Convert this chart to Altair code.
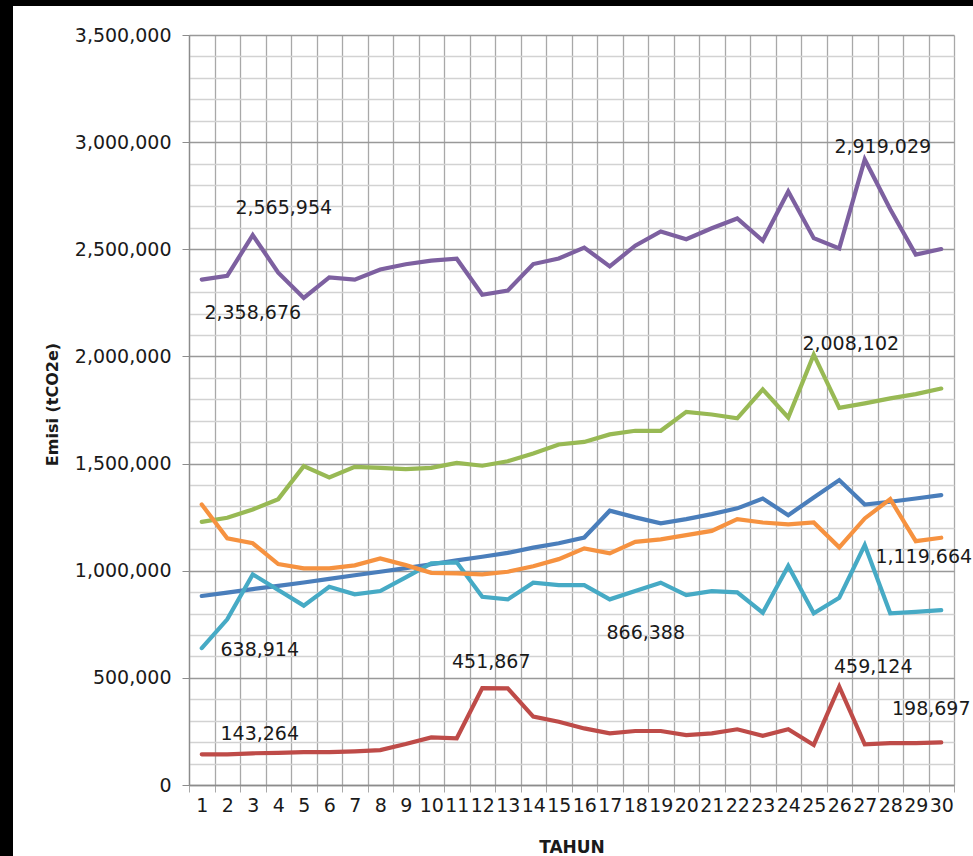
import altair as alt
import pandas as pd

# Annual emissions (tCO2e) for six scenarios over a 30-year horizon
years = list(range(1, 31))

series_names = ["S1", "S2", "S3", "S4", "S5", "S6"]
series_colors = ["#4A7EBB", "#BE4B48", "#98B954", "#7D60A0", "#46AAC5", "#F69240"]

s1_blue = [882000, 898000, 914000, 929000, 945000, 962000, 979000, 995000, 1012000, 1030000,
           1048000, 1065000, 1083000, 1108000, 1128000, 1155000, 1280000, 1249000, 1221000, 1241000,
           1264000, 1291000, 1337000, 1259000, 1342000, 1423000, 1309000, 1322000, 1337000, 1353000]
s2_red = [143264, 143000, 148000, 150000, 153000, 153000, 157000, 163000, 191000, 222000,
          218000, 451867, 451000, 319000, 295000, 264000, 241000, 252000, 252000, 233000,
          241000, 260000, 230000, 260000, 187000, 459124, 190000, 195000, 195000, 198697]
s3_green = [1228000, 1247000, 1286000, 1334000, 1488000, 1435000, 1485000, 1480000, 1474000, 1480000,
            1503000, 1490000, 1511000, 1547000, 1589000, 1601000, 1636000, 1653000, 1653000, 1741000,
            1729000, 1711000, 1846000, 1715000, 2008102, 1760000, 1781000, 1804000, 1824000, 1850000]
s4_purple = [2358676, 2376000, 2565954, 2391000, 2273000, 2369000, 2358000, 2406000, 2430000, 2447000,
             2456000, 2288000, 2307000, 2431000, 2457000, 2508000, 2420000, 2517000, 2583000, 2547000,
             2598000, 2644000, 2540000, 2770000, 2552000, 2504000, 2919029, 2687000, 2475000, 2501000]
s5_cyan = [638914, 773000, 983000, 910000, 837000, 925000, 890000, 905000, 969000, 1034000,
           1039000, 878000, 866000, 944000, 933000, 933000, 866388, 905000, 944000, 886000,
           905000, 899000, 804000, 1022000, 801000, 874000, 1119664, 801000, 808000, 816000]
s6_orange = [1309000, 1151000, 1128000, 1031000, 1011000, 1011000, 1025000, 1057000, 1026000, 990000,
             988000, 983000, 995000, 1021000, 1054000, 1104000, 1081000, 1135000, 1146000, 1166000,
             1186000, 1241000, 1225000, 1216000, 1225000, 1109000, 1244000, 1334000, 1138000, 1154000]

all_series = [s1_blue, s2_red, s3_green, s4_purple, s5_cyan, s6_orange]

y_ticks = list(range(0, 3500001, 100000))
x_ticks = [i + 0.5 for i in range(0, 31)]

rows = []
for name, vals in zip(series_names, all_series):
    for yr, v in zip(years, vals):
        rows.append({"series": name, "year": yr, "value": v})
df = pd.DataFrame(rows)

FONT = "DejaVu Sans"
TEXT = "#1a1a1a"

x_enc = alt.X(
    "year:Q",
    scale=alt.Scale(domain=[0.5, 30.5], nice=False, zero=False),
    axis=alt.Axis(
        values=x_ticks,
        grid=True,
        gridColor="#A8A8A8",
        gridWidth=1.3,
        domainColor="#8C8C8C",
        domainWidth=1.3,
        tickColor="#A8A8A8",
        tickSize=7,
        labelExpr="datum.value < 30 ? format(datum.value + 0.5, 'd') : ''",
        labelOffset=12.75,
        labelPadding=4,
        labelFont=FONT,
        labelFontSize=19,
        labelColor=TEXT,
        labelOverlap=False,
        labelFlush=False,
        title="TAHUN",
        titleFont=FONT,
        titleFontSize=17,
        titleFontWeight="bold",
        titleColor=TEXT,
        titleBaseline="middle",
        titleY=62,
    ),
)

major_test = "datum.value % 500000 === 0"
y_enc = alt.Y(
    "value:Q",
    scale=alt.Scale(domain=[0, 3500000], nice=False),
    axis=alt.Axis(
        values=y_ticks,
        grid=True,
        gridColor={"condition": {"test": major_test, "value": "#999999"}, "value": "#D2D2D2"},
        gridWidth=1.3,
        domainColor="#8C8C8C",
        domainWidth=1.3,
        tickColor={"condition": {"test": major_test, "value": "#8C8C8C"}, "value": "transparent"},
        tickSize=7,
        labelExpr="datum.value % 500000 === 0 ? format(datum.value, ',') : ''",
        labelPadding=11,
        labelFont=FONT,
        labelFontSize=19,
        labelColor=TEXT,
        labelOverlap=False,
        labelFlush=False,
        title="Emisi (tCO2e)",
        titleFont=FONT,
        titleFontSize=16,
        titleFontWeight="bold",
        titleColor=TEXT,
        titleAngle=270,
        titleAlign="center",
        titleBaseline="middle",
        titleX=-137,
        titleY=369,
    ),
)

base = alt.Chart(df)

layers = []
for name, color in zip(series_names, series_colors):
    layers.append(
        base.transform_filter(alt.datum.series == name)
        .mark_line(color=color, strokeWidth=4.2, strokeJoin="miter", strokeCap="round")
        .encode(x=x_enc, y=y_enc)
    )

# data labels: (series, year, horizontal shift, vertical shift)
label_specs = [
    ("S4", 1, 51, 33),
    ("S4", 3, 31, -27),
    ("S4", 27, 18, -12),
    ("S3", 25, 37, -11),
    ("S5", 27, 59, 12),
    ("S5", 17, 36, 34),
    ("S5", 1, 58, 2),
    ("S2", 12, 9, -26),
    ("S2", 1, 58, -20),
    ("S2", 26, 34, -20),
    ("S2", 30, -10, -33),
]
for name, yr, dx, dy in label_specs:
    layers.append(
        base.transform_filter((alt.datum.series == name) & (alt.datum.year == yr))
        .mark_text(font=FONT, fontSize=19, color=TEXT, align="center", baseline="middle", dx=dx, dy=dy)
        .encode(x=x_enc, y=y_enc, text=alt.Text("value:Q", format=","))
    )

# dark frame strips along the left and top edges of the canvas
frame = alt.Chart(alt.Data(values=[{}]))
left_strip = frame.mark_rect(color="black").encode(
    x=alt.value(-189), x2=alt.value(-176), y=alt.value(-35), y2=alt.value(821)
)
top_strip = frame.mark_rect(color="black").encode(
    x=alt.value(-189), x2=alt.value(784), y=alt.value(-35), y2=alt.value(-29)
)

chart = (
    alt.layer(*layers, left_strip, top_strip)
    .properties(
        width=765,
        height=750,
        padding={"left": 189, "top": 35, "right": 19, "bottom": 71},
        autosize=alt.AutoSizeParams(type="none"),
        background="white",
    )
    .configure_view(stroke=None)
)

chart.save("out.html", embed_options={"renderer": "svg", "actions": False})
